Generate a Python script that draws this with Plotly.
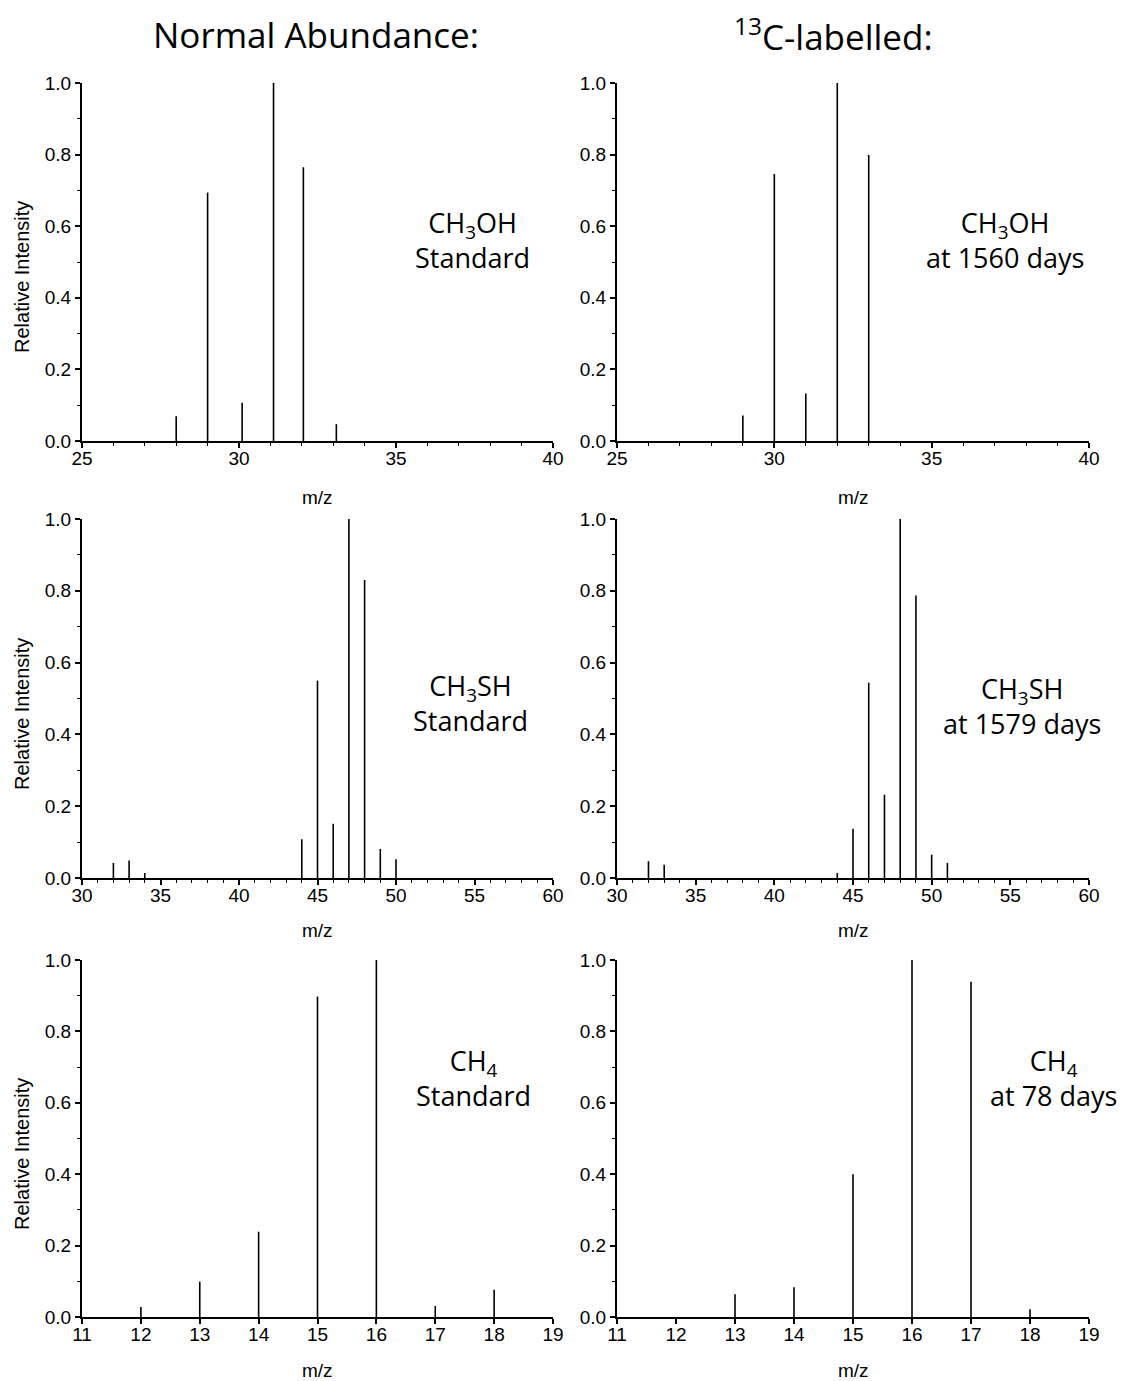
import plotly.graph_objects as go

# ---------------- data ----------------
mz_meoh_std = [28.0, 29.0, 30.1, 31.1, 32.05, 33.1]
int_meoh_std = [0.069, 0.694, 0.107, 1.0, 0.765, 0.047]

mz_meoh_lab = [29, 30, 31, 32, 33]
int_meoh_lab = [0.071, 0.746, 0.133, 1.0, 0.799]

mz_mesh_std = [32, 33, 34, 44, 45, 46, 47, 48, 49, 50]
int_mesh_std = [0.042, 0.049, 0.014, 0.108, 0.550, 0.151, 1.0, 0.830, 0.081, 0.052]

mz_mesh_lab = [32, 33, 44, 45, 46, 47, 48, 49, 50, 51]
int_mesh_lab = [0.047, 0.037, 0.014, 0.137, 0.544, 0.232, 1.0, 0.787, 0.065, 0.042]

mz_ch4_std = [12, 13, 14, 15, 16, 17, 18]
int_ch4_std = [0.028, 0.099, 0.239, 0.898, 1.0, 0.031, 0.076]

mz_ch4_lab = [13, 14, 15, 16, 17, 18]
int_ch4_lab = [0.064, 0.083, 0.400, 1.0, 0.939, 0.022]

x_ranges = [[25, 40], [30, 60], [11, 19]]
x_dticks = [5, 5, 1]
x_minor = [1, 1, None]

col_titles = ["Normal Abundance:", "<sup>13</sup>C-labelled:"]
panel_labels = [
    ["CH<sub>3</sub>OH<br>Standard", "CH<sub>3</sub>OH<br>at 1560 days"],
    ["CH<sub>3</sub>SH<br>Standard", "CH<sub>3</sub>SH<br>at 1579 days"],
    ["CH<sub>4</sub><br>Standard", "CH<sub>4</sub><br>at 78 days"],
]
panels = [
    [(mz_meoh_std, int_meoh_std), (mz_meoh_lab, int_meoh_lab)],
    [(mz_mesh_std, int_mesh_std), (mz_mesh_lab, int_mesh_lab)],
    [(mz_ch4_std, int_ch4_std), (mz_ch4_lab, int_ch4_lab)],
]

# ---------------- layout geometry (page pixels) ----------------
OFF = 8                      # page body margin
W, H = 1127 - OFF, 1381 - OFF
col_px = [(82, 553), (617, 1089)]
row_px = [(83, 441), (519, 878), (960, 1317)]
mz_title_y = [497, 931, 1370]
ri_title_y = [277, 714, 1154]
label_pos = [
    [(472, 240), (1005, 240)],
    [(470, 703), (1022, 706)],
    [(473, 1078), (1053, 1078)],
]
title_pos = [(316, 34), (833, 34)]

def px(x):
    return (x - OFF) / W

def py(y):
    return 1 - (y - OFF) / H

ARIAL = "Liberation Sans, Arial, sans-serif"
TICKFONT = dict(family=ARIAL, size=19, color="black")
LABELFONT = dict(family="Open Sans, sans-serif", size=27, color="black")

fig = go.Figure()
layout = dict(
    width=W, height=H,
    margin=dict(l=0, r=0, t=0, b=0, pad=0, autoexpand=False),
    paper_bgcolor="white", plot_bgcolor="white",
    showlegend=False,
)
annotations = []

idx = 0
for r in range(3):
    for c in range(2):
        idx += 1
        xa = "xaxis" if idx == 1 else f"xaxis{idx}"
        ya = "yaxis" if idx == 1 else f"yaxis{idx}"
        xref = "x" if idx == 1 else f"x{idx}"
        yref = "y" if idx == 1 else f"y{idx}"
        mz, inten = panels[r][c]
        xs, ys = [], []
        for m, v in zip(mz, inten):
            xs += [m, m, None]
            ys += [0, v, None]
        fig.add_trace(go.Scatter(x=xs, y=ys, mode="lines",
                                 line=dict(color="black", width=1.6),
                                 xaxis=xref, yaxis=yref, hoverinfo="skip"))
        xaxis = dict(
            domain=[px(col_px[c][0]), px(col_px[c][1])],
            anchor=yref, range=x_ranges[r], dtick=x_dticks[r], tick0=0,
            showline=True, linecolor="black", linewidth=2,
            ticks="outside", ticklen=5, tickwidth=1.5, tickcolor="black",
            showgrid=False, zeroline=False, tickfont=TICKFONT,
            automargin=False, ticklabelstandoff=-6,
        )
        if x_minor[r]:
            xaxis["minor"] = dict(dtick=x_minor[r], ticks="outside", ticklen=3,
                                  tickwidth=1.2, tickcolor="black", showgrid=False)
        yaxis = dict(
            domain=[py(row_px[r][1]), py(row_px[r][0])],
            anchor=xref, range=[0, 1.0], dtick=0.2, tick0=0, tickformat=".1f",
            showline=True, linecolor="black", linewidth=2,
            ticks="outside", ticklen=5, tickwidth=1.5, tickcolor="black",
            showgrid=False, zeroline=False, tickfont=TICKFONT,
            automargin=False,
            minor=dict(dtick=0.1, ticks="outside", ticklen=3, tickwidth=1.2,
                       tickcolor="black", showgrid=False),
        )
        layout[xa] = xaxis
        layout[ya] = yaxis

        # panel label
        lx, ly = label_pos[r][c]
        annotations.append(dict(text=panel_labels[r][c], x=px(lx), y=py(ly),
                                xref="paper", yref="paper", showarrow=False,
                                xanchor="center", yanchor="middle",
                                font=LABELFONT, align="center"))
        # x axis title
        annotations.append(dict(text="m/z", x=px((col_px[c][0] + col_px[c][1]) / 2),
                                y=py(mz_title_y[r]), xref="paper", yref="paper",
                                showarrow=False, xanchor="center", yanchor="middle",
                                font=dict(family=ARIAL, size=19, color="black")))
    # y axis title (left column only)
    annotations.append(dict(text="Relative Intensity", x=px(22), y=py(ri_title_y[r]),
                            xref="paper", yref="paper", showarrow=False,
                            textangle=-90, xanchor="center", yanchor="middle",
                            font=dict(family=ARIAL, size=20, color="black")))

# column titles
for (cx, cy), t in zip(title_pos, col_titles):
    annotations.append(dict(text=t, x=px(cx), y=py(cy), xref="paper", yref="paper",
                            showarrow=False, xanchor="center", yanchor="middle",
                            font=dict(family="Open Sans, sans-serif", size=35,
                                      color="black")))

layout["annotations"] = annotations
fig.update_layout(**layout)
fig.write_html("out.html")
